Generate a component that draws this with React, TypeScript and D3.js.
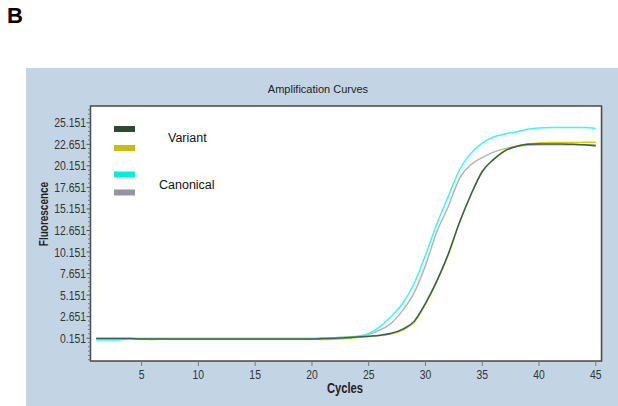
import React from "react";
import * as d3 from "d3";

const cycles = d3.range(1, 46);

// Fluorescence per cycle (1..45)
const variantDark = [
  0.12, 0.12, 0.12, 0.1, 0.05, 0.05, 0.05, 0.05, 0.05, 0.05,
  0.05, 0.05, 0.05, 0.05, 0.05, 0.05, 0.05, 0.05, 0.05, 0.06,
  0.1, 0.14, 0.2, 0.28, 0.38, 0.5, 0.72, 1.2, 2.1, 4.2,
  6.8, 9.9, 13.6, 16.8, 19.5, 20.9, 21.9, 22.4, 22.65, 22.7,
  22.7, 22.7, 22.65, 22.6, 22.45,
];
const variantYellow = [
  0.12, 0.12, 0.12, 0.1, 0.05, 0.0, 0.05, 0.05, 0.05, 0.05,
  0.05, 0.05, 0.05, 0.05, 0.05, 0.05, 0.05, 0.05, 0.05, 0.03,
  0.0, 0.02, 0.1, 0.22, 0.35, 0.45, 0.65, 1.1, 2.0, 4.1,
  6.7, 9.8, 13.6, 16.8, 19.5, 20.9, 21.95, 22.45, 22.7, 22.8,
  22.85, 22.85, 22.85, 22.9, 22.9,
];
const canonicalCyan = [
  -0.05, -0.05, -0.05, 0.1, 0.1, 0.1, 0.1, 0.1, 0.1, 0.1,
  0.1, 0.1, 0.1, 0.1, 0.1, 0.1, 0.1, 0.1, 0.1, 0.1,
  0.15, 0.2, 0.25, 0.3, 0.7, 1.5, 2.7, 4.2, 6.5, 9.8,
  13.4, 16.6, 19.7, 21.6, 22.8, 23.5, 23.85, 24.1, 24.4, 24.55,
  24.6, 24.6, 24.6, 24.6, 24.5,
];
const canonicalGray = [
  0.12, 0.12, 0.12, 0.12, 0.12, 0.1, 0.1, 0.1, 0.1, 0.1,
  0.1, 0.1, 0.1, 0.1, 0.1, 0.1, 0.1, 0.1, 0.1, 0.1,
  0.15, 0.2, 0.28, 0.38, 0.6, 1.1, 1.9, 3.4, 5.4, 8.6,
  12.5, 15.4, 18.7, 20.3, 21.1, 21.75, 22.15, 22.4, 22.55, 22.6,
  22.6, 22.6, 22.6, 22.6, 22.6,
];

const xTicks = [5, 10, 15, 20, 25, 30, 35, 40, 45];
const yTicks = [0.151, 2.651, 5.151, 7.651, 10.151, 12.651, 15.151, 17.651, 20.151, 22.651, 25.151];
const yTickLabels = ["0.151", "2.651", "5.151", "7.651", "10.151", "12.651", "15.151", "17.651", "20.151", "22.651", "25.151"];

const legendColors = ["#2c4a2e", "#c9bd14", "#00efe0", "#9494a2"];
const legendLabels = ["Variant", "Canonical"];

const W = 618;
const H = 406;
const left = 90.5;
const right = 601.5;
const top = 106;
const bottom = 361;

const SANS = "'Liberation Sans', Arial, sans-serif";
const SQ = 0.8; // horizontal condensation for narrow text

function Narrow(props: {
  x: number;
  y: number;
  anchor?: "start" | "middle" | "end";
  size: number;
  bold?: boolean;
  rotate?: number;
  fill?: string;
  children: React.ReactNode;
}) {
  const rot = props.rotate ? ` rotate(${props.rotate})` : "";
  return (
    <text
      transform={`translate(${props.x},${props.y})${rot} scale(${SQ},1)`}
      textAnchor={props.anchor || "start"}
      fontFamily={SANS}
      fontSize={props.size}
      fontWeight={props.bold ? "bold" : "normal"}
      fill={props.fill || "#333"}
    >
      {props.children}
    </text>
  );
}

export default function App() {
  const x = d3.scaleLinear().domain([0.5, 45.5]).range([left, right]);
  const y = d3.scaleLinear().domain([-2.5, 27.1]).range([bottom, top]);

  const line = (vals: number[]) =>
    d3
      .line<number>()
      .x((_, i) => x(cycles[i]))
      .y((v) => y(v))
      .curve(d3.curveMonotoneX)(vals) || "";

  const minor: number[] = [];
  for (let v = 0.151 - 2.5; v <= 27.1; v += 0.5) {
    const isMajor = yTicks.some((t) => Math.abs(t - v) < 1e-6);
    if (!isMajor && y(v) >= top && y(v) <= bottom) minor.push(v);
  }

  const series = [
    { vals: canonicalGray, color: "#b4b4b4" },
    { vals: canonicalCyan, color: "#3ff4f4" },
    { vals: variantYellow, color: "#d8cc00" },
    { vals: variantDark, color: "#34605c" },
  ];

  return (
    <svg
      width={W}
      height={H}
      style={{ position: "absolute", left: 0, top: 0, background: "#ffffff" }}
    >
      <text x={7} y={23} fontFamily={SANS} fontWeight="bold" fontSize={22} fill="#000">
        B
      </text>
      <rect x={26} y={68} width={W - 26} height={H - 68} fill="#c3d5e5" />
      <text x={318} y={93} textAnchor="middle" fontFamily={SANS} fontSize={11} fill="#222">
        Amplification Curves
      </text>
      {/* plot area */}
      <rect x={left + 1} y={top + 1} width={right - left} height={bottom - top} fill="#8a9aa8" opacity={0.5} />
      <rect x={left} y={top} width={right - left} height={bottom - top} fill="#ffffff" stroke="#4a4a4a" strokeWidth={1.5} />

      {/* y ticks */}
      {minor.map((v, i) => (
        <line key={"m" + i} x1={left - 2.5} x2={left} y1={y(v)} y2={y(v)} stroke="#777" strokeWidth={1} />
      ))}
      {yTicks.map((v, i) => (
        <g key={"y" + i}>
          <line x1={left - 4} x2={left} y1={y(v)} y2={y(v)} stroke="#555" strokeWidth={1} />
          <Narrow x={left - 4.5} y={y(v) + 4.5} anchor="end" size={13}>
            {yTickLabels[i]}
          </Narrow>
        </g>
      ))}

      {/* x ticks */}
      {xTicks.map((v) => (
        <g key={"x" + v}>
          <line x1={x(v)} x2={x(v)} y1={bottom} y2={bottom + 5} stroke="#777" strokeWidth={1} />
          <Narrow x={x(v)} y={379} anchor="middle" size={13}>
            {v}
          </Narrow>
        </g>
      ))}

      <Narrow x={345} y={393} anchor="middle" size={14} bold fill="#222">
        Cycles
      </Narrow>
      <Narrow x={48} y={214} anchor="middle" size={12.5} bold rotate={-90} fill="#222">
        Fluorescence
      </Narrow>

      {/* curves */}
      {series.map((s, i) => (
        <path key={"s" + i} d={line(s.vals)} fill="none" stroke={s.color} strokeWidth={1.5} />
      ))}

      {/* legend */}
      <rect x={114} y={126} width={21} height={6} fill={legendColors[0]} />
      <rect x={114} y={145} width={21} height={6} fill={legendColors[1]} />
      <rect x={114} y={171.5} width={21} height={6} fill={legendColors[2]} />
      <rect x={114} y={189.5} width={21} height={6} fill={legendColors[3]} />
      <text x={168} y={141.5} fontFamily={SANS} fontSize={12.5} fill="#111">
        {legendLabels[0]}
      </text>
      <text x={159} y={188.5} fontFamily={SANS} fontSize={12.5} fill="#111">
        {legendLabels[1]}
      </text>
    </svg>
  );
}
